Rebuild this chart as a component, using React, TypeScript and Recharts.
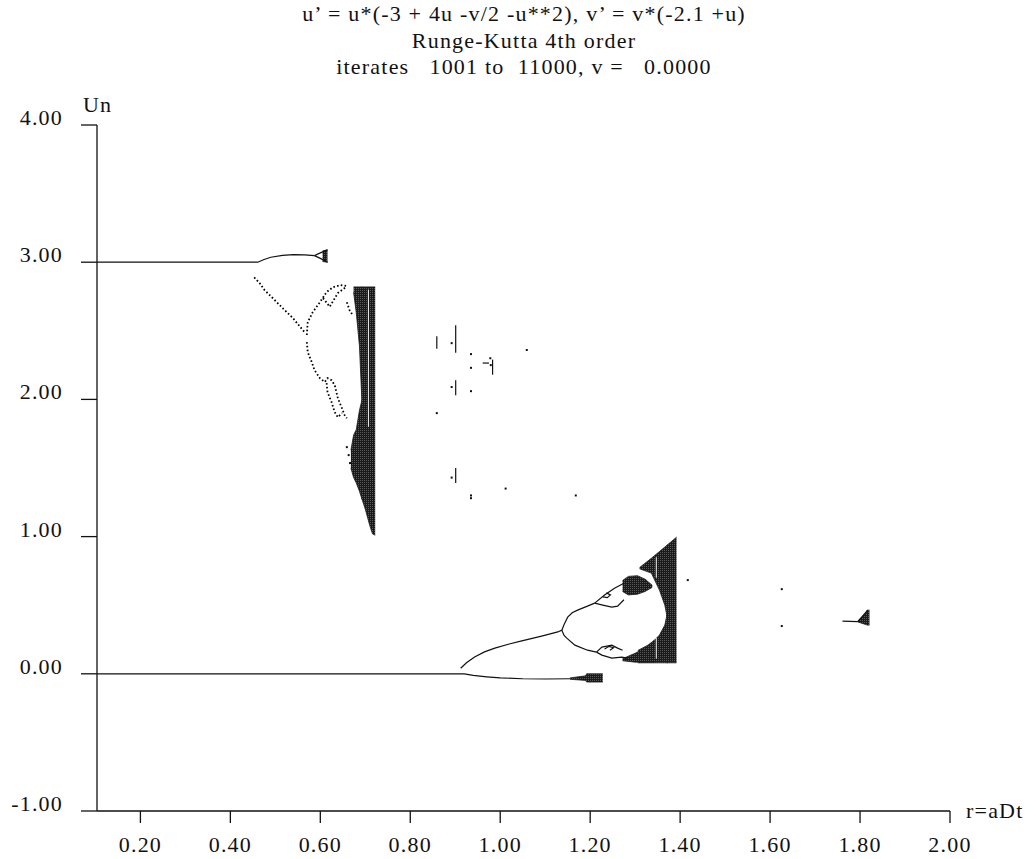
import { ComposedChart, Line, Area, Scatter, XAxis, YAxis } from 'recharts';

const xTicks = [0.2, 0.4, 0.6, 0.8, 1.0, 1.2, 1.4, 1.6, 1.8, 2.0];
const yTicks = [-1, 0, 1, 2, 3, 4];

const titleLines = [
  'u\u2019 = u*(-3 + 4u -v/2 -u**2), v\u2019 = v*(-2.1 +u)',
  'Runge-Kutta 4th order',
  'iterates   1001 to  11000, v =   0.0000',
];

// --- upper fixed point u = 3 and its first bifurcation ---
const upperFixed = [
  { x: 0.1035, u: 3.0 }, { x: 0.461, u: 3.0 }, { x: 0.475, u: 3.02 }, { x: 0.49, u: 3.036 },
  { x: 0.516, u: 3.05 }, { x: 0.54, u: 3.055 }, { x: 0.565, u: 3.053 }, { x: 0.587, u: 3.048 },
];
const blobTop = [{ x: 0.587, u: 3.048 }, { x: 0.6, u: 3.068 }, { x: 0.616, u: 3.09 }];
const blobBottom = [{ x: 0.587, u: 3.048 }, { x: 0.6, u: 3.028 }, { x: 0.616, u: 3.0 }];
const blobBand = [{ x: 0.605, band: [3.005, 3.082] }, { x: 0.616, band: [3.0, 3.09] }];

const fallDiagonal = [
  { x: 0.453, u: 2.889 }, { x: 0.465, u: 2.848 }, { x: 0.476, u: 2.797 }, { x: 0.494, u: 2.739 },
  { x: 0.516, u: 2.666 }, { x: 0.539, u: 2.593 }, { x: 0.565, u: 2.49 },
];
const loopUpperArc = [
  { x: 0.57, u: 2.469 }, { x: 0.572, u: 2.562 }, { x: 0.583, u: 2.635 }, { x: 0.599, u: 2.708 },
  { x: 0.614, u: 2.782 }, { x: 0.628, u: 2.818 }, { x: 0.645, u: 2.833 }, { x: 0.661, u: 2.826 },
];
const loopNotch = [
  { x: 0.606, u: 2.738 }, { x: 0.621, u: 2.675 }, { x: 0.639, u: 2.775 }, { x: 0.658, u: 2.821 },
];
const loopLower = [
  { x: 0.57, u: 2.418 }, { x: 0.572, u: 2.345 }, { x: 0.581, u: 2.272 }, { x: 0.587, u: 2.214 },
  { x: 0.599, u: 2.155 }, { x: 0.61, u: 2.127 }, { x: 0.616, u: 2.155 }, { x: 0.625, u: 2.14 },
  { x: 0.632, u: 2.104 }, { x: 0.639, u: 2.009 }, { x: 0.648, u: 1.936 }, { x: 0.654, u: 1.885 },
  { x: 0.659, u: 1.863 },
];
const loopInner = [
  { x: 0.614, u: 2.119 }, { x: 0.616, u: 2.053 }, { x: 0.625, u: 1.98 }, { x: 0.632, u: 1.907 },
  { x: 0.639, u: 1.87 }, { x: 0.648, u: 1.9 },
];
const edgeTrail = [{ x: 0.659, u: 2.708 }, { x: 0.665, u: 2.65 }, { x: 0.672, u: 2.614 }];

// chaotic band below u = 3
const denseTop = [
  { x: 0.674, band: [2.78, 2.82] }, { x: 0.68, band: [2.63, 2.82] },
  { x: 0.687, band: [2.39, 2.82] }, { x: 0.693, band: [1.95, 2.82] },
];
const denseLump = [
  { x: 0.668, band: [1.5, 1.63] }, { x: 0.674, band: [1.43, 1.74] }, { x: 0.68, band: [1.39, 1.78] },
  { x: 0.687, band: [1.33, 1.92] }, { x: 0.693, band: [1.27, 2.0] },
];
const denseMain = [
  { x: 0.692, band: [1.28, 2.82] }, { x: 0.7, band: [1.2, 2.82] }, { x: 0.71, band: [1.08, 2.82] },
  { x: 0.716, band: [1.02, 2.82] }, { x: 0.722, band: [1.01, 2.82] },
];
const denseGap = [{ x: 0.707, u: 2.8 }, { x: 0.707, u: 1.8 }];

// --- lower fixed point u = 0 and its cascade ---
const zeroBranch = [
  { x: 0.1035, u: 0 }, { x: 0.92, u: 0 }, { x: 0.94, u: -0.012 }, { x: 0.97, u: -0.022 },
  { x: 1.0, u: -0.03 }, { x: 1.05, u: -0.036 }, { x: 1.1, u: -0.038 }, { x: 1.155, u: -0.036 },
];
const zeroBlock = [
  { x: 1.155, band: [-0.04, -0.03] }, { x: 1.19, band: [-0.048, -0.015] },
  { x: 1.192, band: [-0.06, 0.0] }, { x: 1.228, band: [-0.06, 0.0] },
];
const riseBranch = [
  { x: 0.912, u: 0.04 }, { x: 0.925, u: 0.08 }, { x: 0.943, u: 0.122 }, { x: 0.965, u: 0.16 },
  { x: 0.988, u: 0.187 }, { x: 1.02, u: 0.217 }, { x: 1.048, u: 0.24 }, { x: 1.092, u: 0.275 },
  { x: 1.128, u: 0.305 }, { x: 1.137, u: 0.318 },
];
const upperSub = [
  { x: 1.137, u: 0.318 }, { x: 1.142, u: 0.36 }, { x: 1.15, u: 0.413 }, { x: 1.16, u: 0.445 },
  { x: 1.172, u: 0.464 }, { x: 1.194, u: 0.493 }, { x: 1.21, u: 0.515 },
];
const upperLoopTop = [{ x: 1.21, u: 0.515 }, { x: 1.232, u: 0.574 }, { x: 1.254, u: 0.624 }, { x: 1.275, u: 0.66 }];
const upperLoopBottom = [
  { x: 1.21, u: 0.515 }, { x: 1.228, u: 0.501 }, { x: 1.248, u: 0.486 }, { x: 1.261, u: 0.493 }, { x: 1.275, u: 0.54 },
];
const upperSmallLoop = [
  { x: 1.228, u: 0.56 }, { x: 1.238, u: 0.555 }, { x: 1.245, u: 0.575 }, { x: 1.236, u: 0.59 },
];
const lowerSub = [
  { x: 1.137, u: 0.318 }, { x: 1.142, u: 0.28 }, { x: 1.148, u: 0.26 }, { x: 1.166, u: 0.209 },
  { x: 1.194, u: 0.172 }, { x: 1.214, u: 0.158 },
];
const lowerLoopTop = [
  { x: 1.214, u: 0.158 }, { x: 1.226, u: 0.195 }, { x: 1.248, u: 0.209 }, { x: 1.261, u: 0.187 }, { x: 1.272, u: 0.172 },
];
const lowerLoopBottom = [
  { x: 1.214, u: 0.158 }, { x: 1.226, u: 0.136 }, { x: 1.248, u: 0.114 }, { x: 1.27, u: 0.121 }, { x: 1.283, u: 0.114 },
];
const lowerSmallLoop = [
  { x: 1.232, u: 0.18 }, { x: 1.242, u: 0.2 }, { x: 1.252, u: 0.19 }, { x: 1.244, u: 0.172 },
];
const upperTri = [
  { x: 1.272, band: [0.6, 0.68] }, { x: 1.285, band: [0.575, 0.71] }, { x: 1.305, band: [0.58, 0.715] },
  { x: 1.322, band: [0.6, 0.69] }, { x: 1.338, band: [0.63, 0.645] },
];
const lowerTri = [
  { x: 1.272, band: [0.095, 0.11] }, { x: 1.3, band: [0.085, 0.15] },
  { x: 1.325, band: [0.085, 0.19] }, { x: 1.343, band: [0.085, 0.245] },
];
const bigUpper = [
  { x: 1.31, band: [0.765, 0.775] }, { x: 1.336, band: [0.734, 0.842] }, { x: 1.354, band: [0.61, 0.891] },
  { x: 1.366, band: [0.5, 0.924] }, { x: 1.372, band: [0.4, 0.94] },
];
const bigLower = [
  { x: 1.306, band: [0.08, 0.17] }, { x: 1.328, band: [0.08, 0.208] }, { x: 1.343, band: [0.08, 0.245] },
  { x: 1.354, band: [0.08, 0.282] }, { x: 1.366, band: [0.08, 0.355] }, { x: 1.372, band: [0.08, 0.45] },
];
const bigRight = [{ x: 1.37, band: [0.08, 0.935] }, { x: 1.392, band: [0.08, 0.996] }];
const bigGapTop = [{ x: 1.347, u: 0.85 }, { x: 1.347, u: 0.7 }];
const bigGapBottom = [{ x: 1.347, u: 0.26 }, { x: 1.347, u: 0.11 }];

// periodic windows scattered between the two cascades
const midSegments = [
  [{ x: 0.859, u: 2.37 }, { x: 0.859, u: 2.46 }],
  [{ x: 0.901, u: 2.34 }, { x: 0.901, u: 2.54 }],
  [{ x: 0.901, u: 2.03 }, { x: 0.901, u: 2.14 }],
  [{ x: 0.901, u: 1.39 }, { x: 0.901, u: 1.5 }],
  [{ x: 0.983, u: 2.18 }, { x: 0.983, u: 2.29 }],
  [{ x: 0.961, u: 2.265 }, { x: 0.975, u: 2.265 }],
];
const isolated = [
  { x: 0.892, u: 2.41 }, { x: 0.892, u: 2.09 }, { x: 0.892, u: 1.43 }, { x: 0.935, u: 2.33 },
  { x: 0.935, u: 2.23 }, { x: 0.935, u: 2.06 }, { x: 0.935, u: 1.3 }, { x: 0.935, u: 1.28 },
  { x: 1.059, u: 2.36 }, { x: 0.859, u: 1.9 }, { x: 1.012, u: 1.35 }, { x: 1.168, u: 1.3 },
  { x: 1.417, u: 0.683 }, { x: 1.626, u: 0.617 }, { x: 1.626, u: 0.348 },
  { x: 0.659, u: 1.652 }, { x: 0.663, u: 1.594 }, { x: 0.666, u: 1.536 },
  { x: 0.978, u: 2.3 }, { x: 0.979, u: 2.25 },
];

// window near r = 1.8
const rightStem = [{ x: 1.761, u: 0.384 }, { x: 1.795, u: 0.38 }];
const rightEdge = [{ x: 1.795, u: 0.38 }, { x: 1.817, u: 0.464 }];
const rightBand = [
  { x: 1.795, band: [0.378, 0.384] }, { x: 1.812, band: [0.36, 0.44] },
  { x: 1.816, band: [0.355, 0.464] }, { x: 1.821, band: [0.355, 0.464] },
];

const solidCurves = [
  upperFixed, blobTop, blobBottom, zeroBranch, riseBranch, upperSub, upperLoopTop, upperLoopBottom,
  upperSmallLoop, lowerSub, lowerLoopTop, lowerLoopBottom, lowerSmallLoop, rightStem, rightEdge,
  ...midSegments,
];
const dottedCurves = [fallDiagonal, loopUpperArc, loopNotch, loopLower, loopInner, edgeTrail];
const bands = [
  blobBand, denseTop, denseLump, denseMain, zeroBlock, upperTri, lowerTri,
  bigUpper, bigLower, bigRight, rightBand,
];
const gaps = [denseGap, bigGapTop, bigGapBottom];

const font = '"Liberation Serif", "Times New Roman", serif';
const textStyle = { fontFamily: font, fontSize: 22, letterSpacing: 1.2, fill: '#111' };

const XTick = ({ x, y, payload }: any) => (
  <text x={x} y={y} dy={15} textAnchor="middle" style={textStyle}>
    {Number(payload.value).toFixed(2)}
  </text>
);

const YTick = ({ x, y, payload }: any) => (
  <text x={x} y={y} textAnchor="end" style={textStyle}>
    {Number(payload.value).toFixed(2)}
  </text>
);

const Dot = ({ cx, cy }: any) => <rect x={cx - 1} y={cy - 1} width={2} height={2} fill="#111" />;

export default function App() {
  return (
    <div style={{ position: 'absolute', left: 0, top: 0, width: 1036, height: 859, background: '#fff' }}>
      <svg width={1036} height={859} style={{ position: 'absolute', left: 0, top: 0, pointerEvents: 'none' }}>
        <defs>
          <pattern id="grain" width={2} height={2} patternUnits="userSpaceOnUse">
            <rect width={2} height={2} fill="#1a1a1a" />
            <rect width={1} height={1} fill="#5a5a5a" />
          </pattern>
        </defs>
        {titleLines.map((t, i) => (
          <text key={i} x={524} y={21 + i * 26.5} textAnchor="middle" style={{ ...textStyle, whiteSpace: 'pre' }}>
            {t}
          </text>
        ))}
        <text x={83} y={112} style={textStyle}>Un</text>
        <text x={966} y={818} style={textStyle}>r=aDt</text>
      </svg>
      <ComposedChart width={1036} height={859} margin={{ top: 125, right: 86, bottom: 0, left: 0 }}>
        <XAxis
          type="number"
          dataKey="x"
          domain={[0.1035, 2.0]}
          allowDataOverflow
          ticks={xTicks}
          height={48}
          tickSize={12}
          tickMargin={14}
          tick={<XTick />}
          axisLine={{ stroke: '#111', strokeWidth: 1.3 }}
          tickLine={{ stroke: '#111', strokeWidth: 1.3 }}
        />
        <YAxis
          type="number"
          dataKey="u"
          domain={[-1, 4]}
          allowDataOverflow
          ticks={yTicks}
          width={97}
          tickSize={16}
          tickMargin={18}
          tick={<YTick />}
          axisLine={{ stroke: '#111', strokeWidth: 1.3 }}
          tickLine={{ stroke: '#111', strokeWidth: 1.3 }}
        />
        {bands.map((d, i) => (
          <Area
            key={`b${i}`}
            data={d}
            dataKey="band"
            type="linear"
            stroke="#1a1a1a"
            strokeWidth={0.8}
            fill="url(#grain)"
            fillOpacity={1}
            isAnimationActive={false}
            dot={false}
            activeDot={false}
          />
        ))}
        {gaps.map((d, i) => (
          <Line key={`g${i}`} data={d} dataKey="u" type="linear" stroke="#f2f2f2" strokeWidth={1}
            dot={false} activeDot={false} isAnimationActive={false} />
        ))}
        {solidCurves.map((d, i) => (
          <Line key={`s${i}`} data={d} dataKey="u" type="linear" stroke="#111" strokeWidth={1.2}
            dot={false} activeDot={false} isAnimationActive={false} />
        ))}
        {dottedCurves.map((d, i) => (
          <Line key={`d${i}`} data={d} dataKey="u" type="linear" stroke="#000" strokeWidth={1.8}
            strokeDasharray="1.6 2.2" dot={false} activeDot={false} isAnimationActive={false} />
        ))}
        <Scatter data={isolated} dataKey="u" shape={<Dot />} isAnimationActive={false} />
      </ComposedChart>
    </div>
  );
}
